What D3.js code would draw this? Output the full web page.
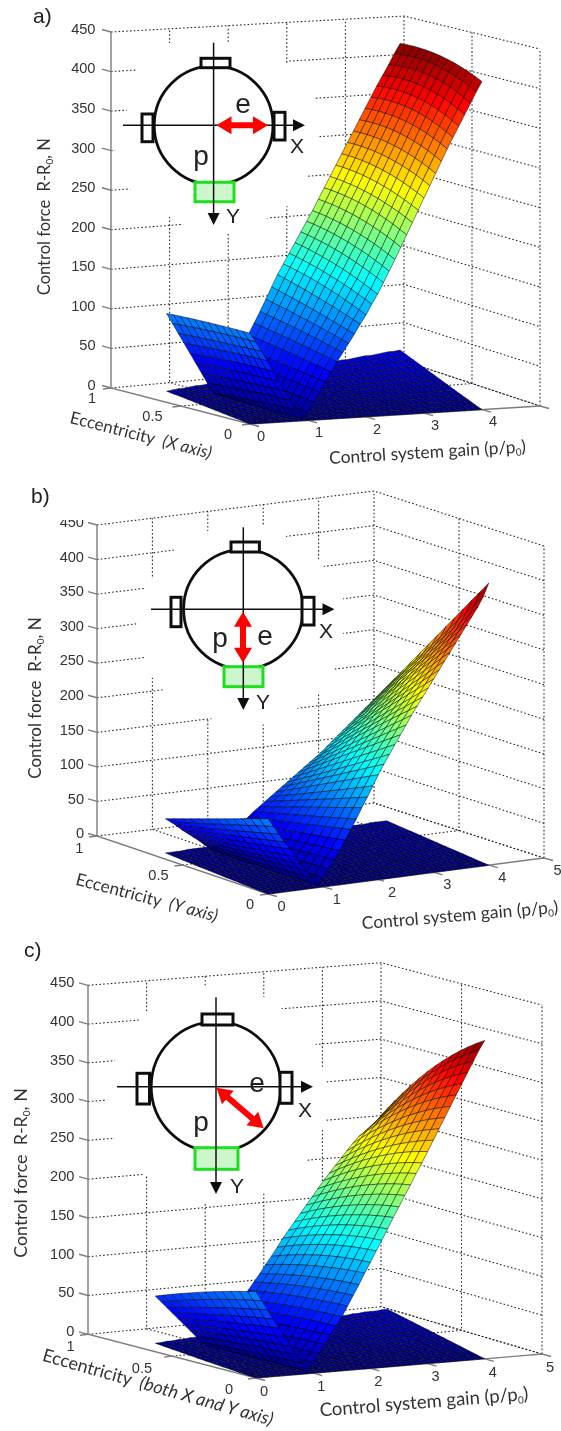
<!DOCTYPE html>
<html>
<head>
<meta charset="utf-8">
<script src="https://d3js.org/d3.v7.min.js"></script>
<style>
body { margin: 0; background: #fff; }
text { white-space: pre; }
</style>
</head>
<body>
<div id="wrapper"></div>
<script>
// mesh rows and the three measured columns of each sheet
const gainRows = [0,0.1,0.2,0.3,0.4,0.5,0.6,0.7,0.8,0.9,1,1.1,1.2,1.3,1.4,1.5,1.6,1.7,1.8,1.9,2,2.1,2.2,2.3,2.4,2.5,2.6,2.7,2.8,2.9,3,3.1,3.2,3.3,3.4,3.5,3.6,3.7,3.8,3.9,4];
const eccCols = [0, 0.3, 0.6];
const eccMesh = [0,0.05,0.1,0.15,0.2,0.25,0.3,0.35,0.4,0.45,0.5,0.55,0.6];
const foldRow = 9; // wing below this row, ridge above

const forceTicks = [0,50,100,150,200,250,300,350,400,450];
const gainTicks = [0,1,2,3,4,5];
const eccTicks = [0,0.5,1];

// a) force read along eccentricity 0, 0.3, 0.6
const upperA0 = [111,100,88,76,63,50,38,26,14,3,10,22,34,46,58,70,81,92,103,115,126,139,151,165,179,193,208,223,238,253,268,283,298,313,328,342,356,370,384,398,411];
const upperA3 = [112,100,87,75,62,49,36,24,11,3,15,28,41,54,68,81,94,107,120,134,148,161,174,188,202,216,231,246,260,275,290,305,320,335,350,365,379,393,407,420,431];
const upperA6 = [111,98,85,72,59,46,33,20,7,4,20,34,48,62,77,91,105,120,135,150,163,176,189,202,215,228,242,256,270,284,298,312,326,340,354,368,382,395,408,422,435];
const lowerA3 = [7,7,8,8,8,9,9,9,10,10,10,11,11,11,12,12,12,13,13,13,14,14,14,15,15,15,16,16,17,17,17,18,18,19,19,19,20,20,20,21,21];
const lowerA6 = [14,15,16,16,17,18,18,19,20,20,21,22,22,23,24,25,25,26,27,27,28,29,30,30,31,32,33,33,34,35,36,36,37,38,39,39,40,41,42,42,43];

// b)
const upperB0 = [106,94,82,70,59,47,36,25,14,3,13,24,36,48,62,76,90,105,119,134,149,163,176,189,202,215,228,240,252,264,276,288,300,312,324,336,348,360,372,386,405];
const upperB3 = [82,73,64,55,46,37,28,20,11,3,12,21,31,40,50,61,71,82,92,102,113,123,132,142,152,161,170,180,189,198,208,217,226,236,246,255,265,274,284,294,307];
const upperB6 = [58,52,46,39,33,27,21,14,8,2,10,17,25,32,39,46,53,59,65,71,77,83,89,95,101,107,113,119,125,132,139,146,153,160,167,174,181,188,195,202,209];
const lowerB3 = [4,4,4,4,5,5,5,5,5,5,5,5,5,5,6,6,6,6,6,6,6,6,6,6,6,7,7,7,7,7,7,7,7,7,7,8,8,8,8,8,8];
const lowerB6 = [9,9,9,9,10,10,10,10,10,11,11,11,11,11,12,12,12,12,12,13,13,13,13,13,13,14,14,14,14,14,14,15,15,15,15,15,15,16,16,16,16];

// c)
const upperC0 = [108,96,84,72,60,48,36,25,14,3,13,24,35,46,57,68,81,94,107,121,134,148,161,175,189,202,216,229,243,256,270,284,298,312,326,340,354,368,382,396,408];
const upperC3 = [92,82,71,61,51,41,31,21,11,3,12,22,32,43,54,65,77,89,101,114,127,140,152,164,176,188,200,212,224,236,248,259,271,283,295,307,318,329,340,350,360];
const upperC6 = [71,63,55,47,39,31,23,15,7,2,10,18,27,37,47,57,68,78,88,99,109,120,131,141,151,161,171,181,191,201,210,219,228,237,246,254,260,266,272,280,288];
const lowerC3 = [5,5,6,6,6,6,7,7,7,7,7,8,8,8,8,9,9,9,9,9,10,10,10,10,11,11,11,11,11,12,12,12,12,12,13,13,13,13,13,14,14];
const lowerC6 = [11,11,12,12,13,13,14,14,15,15,15,16,16,17,17,18,18,19,19,19,20,20,21,21,22,22,22,23,23,24,24,25,25,25,26,26,27,27,27,28,28];

const width = 561, height = 1431;

const gainScale = d3.scaleLinear().domain([0,5]).range([0,1]);
const eccScale = d3.scaleLinear().domain([0,1]).range([0,1]);
const forceScale = d3.scaleLinear().domain([0,450]).range([0,1]);
const jet = d3.scaleLinear()
    .domain([0,0.125,0.375,0.625,0.875,1])
    .range(["#00007f","#0000ff","#00ffff","#ffff00","#ff0000","#7f0000"]);

// floor corners: A ecc1/gain0, B ecc0/gain0, C ecc0/gain5, D ecc1/gain5, h = height of 450 N
const panels = [
  {
    label: "a)", labelPos: [33,23],
    upper: [upperA0,upperA3,upperA6], lower: [lowerA3,lowerA6], top: 436,
    A: {x:111,y:388,h:356}, B: {x:250,y:424,h:368}, C: {x:540,y:406,h:357}, D: {x:404,y:361,h:345},
    gainLabels: [0,1,2,3,4], gainOff: [11,11.5], eccOff: [[-22,10],[-28,10],[-19,10]], forceX: 95.5, forceDy: -3.4,
    yTitle: {p:[44.7,216.7], s:16.5}, eccTitle: {t:"(X axis)", p:[141,435], r:14.3, s:17}, gainTitle: {p:[427.5,452], r:-3.4, s:17.4},
    cover: [[136,43],[286,43],[286,62],[315,99],[318,140],[306,180],[286,207],[261,222],[227,233],[182,225],[130,189],[115,151],[127,110],[136,70]],
    patches: [],
    inset: {c:[213.6,125.3], r:59.4, top:[201,58.3,230,67.7], left:[142,114,153,141.7], right:[274,112.3,285,140], green:[195,182.3,234,201.7],
      vert:[42.7,225], hor:[123,305], red:[[216.5,125.3],[268,125.3]], e:[243,113], p:[201,165], X:[297,153], Y:[233,222.7]}
  },
  {
    label: "b)", labelPos: [31,503],
    upper: [upperB0,upperB3,upperB6], lower: [lowerB3,lowerB6], top: 407,
    A: {x:97,y:836,h:311}, B: {x:268,y:894,h:320}, C: {x:544,y:858,h:312}, D: {x:374,y:803,h:312},
    gainLabels: [0,1,2,3,4,5], gainOff: [13.6,11.7], eccOff: [[-18,9.3],[-24,10],[-17.6,11.7]], forceX: 84, forceDy: -3,
    yTitle: {p:[34.7,698], s:17}, eccTitle: {t:"(Y axis)", p:[147,897.3], r:14.8, s:17.2}, gainTitle: {p:[460,915], r:-4.8, s:17.4},
    cover: [[174,550],[174,533],[207,531],[262,525],[286,530],[286,537],[317,558],[324,567],[343,598],[343,633],[335,668],[317,695],[300,707],[262,725],[207,718],[163,690],[152,677],[145,658],[136,625],[145,588]],
    patches: [[60,508,44,12],[384,880,18,7]],
    inset: {c:[243.3,609.3], r:59.7, top:[231,542,259.4,552], left:[171,597.3,181,626.7], right:[302,597.3,314,625], green:[224,666.7,263,686.7],
      vert:[527.3,710], hor:[151,334.5], red:[[243,611.7],[243,662.7]], e:[265,645], p:[220,647], X:[326,638.3], Y:[263,709]}
  },
  {
    label: "c)", labelPos: [24,956.7],
    upper: [upperC0,upperC3,upperC6], lower: [lowerC3,lowerC6], top: 410,
    A: {x:88,y:1334.3,h:349}, B: {x:256,y:1378,h:360}, C: {x:542,y:1354,h:349}, D: {x:381,y:1306.7,h:344},
    gainLabels: [0,1,2,3,4,5], gainOff: [8,12.5], eccOff: [[-27,10.3],[-30,11.7],[-17.5,11.7]], forceX: 74.4, forceDy: -3.5,
    yTitle: {p:[20.4,1173], s:17.9}, eccTitle: {t:"(both X and Y axis)", p:[158,1387], r:15.8, s:18}, gainTitle: {p:[424,1401.7], r:-4.6, s:18.5},
    cover: [[147,1012],[204,987],[265,997],[281,1008],[316,1045],[327,1083],[326,1122],[322,1130],[306,1162],[265,1193],[204,1203],[147,1175],[143,1175],[114,1138],[107,1101],[114,1062],[140,1020]],
    patches: [],
    inset: {c:[216,1086.7], r:64.8, top:[202,1014,233,1025], left:[137,1073.3,149.5,1104], right:[280,1072.3,292,1103.3], green:[195,1147.7,238,1169.3],
      vert:[997.3,1194], hor:[117,313], red:[[216.5,1087.7],[263.7,1128.3]], e:[257,1091.7], p:[201,1130.7], X:[305,1116.7], Y:[237,1193]}
  }
];

const svg = d3.select("#wrapper").append("svg")
    .attr("width",width)
    .attr("height",height)
    .style("display","block");

const defs = svg.append("defs");
defs.append("filter").attr("id","soft")
    .attr("x","-5%").attr("y","-5%").attr("width","110%").attr("height","110%")
  .append("feGaussianBlur").attr("stdDeviation",0.35);

const root = svg.append("g").attr("filter","url(#soft)");

// curve through the three measured columns
function acrossEcc(v0, v3, v6, e) {
    const a = eccCols[0], b = eccCols[1], c = eccCols[2];
    return v0*(e-b)*(e-c)/((a-b)*(a-c)) + v3*(e-a)*(e-c)/((b-a)*(b-c)) + v6*(e-a)*(e-b)/((c-a)*(c-b));
}

panels.forEach(drawPanel);

function drawPanel(p) {
    const project = (gain, ecc, force) => {
        const u = gainScale(gain), v = eccScale(ecc);
        const mix = (k) => (1-u)*(1-v)*p.B[k] + u*(1-v)*p.C[k] + (1-u)*v*p.A[k] + u*v*p.D[k];
        return [mix("x"), mix("y") - forceScale(force)*mix("h")];
    };
    const line = d3.line();
    const g = root.append("g");

    const grid = (pts) => g.append("path")
        .attr("d",line(pts))
        .attr("fill","none")
        .attr("stroke","#222")
        .attr("stroke-width",1.05)
        .attr("stroke-dasharray","1.6 2.2");

    // walls and floor
    forceTicks.forEach(f => grid([project(0,1,f),project(5,1,f),project(5,0,f)]));
    gainTicks.slice(1).forEach(t => grid([project(t,0,0),project(t,1,0),project(t,1,450)]));
    grid([project(5,0,0),project(5,0,450)]);
    grid([project(0,0.5,0),project(5,0.5,0),project(5,0.5,450)]);

    // white background of the pasted sketch hides part of the grid
    g.append("polygon")
        .attr("points",p.cover.join(" "))
        .attr("fill","#fff");

    // axes
    const axis = (pts) => g.append("path")
        .attr("d",line(pts))
        .attr("fill","none")
        .attr("stroke","#7d7d7d")
        .attr("stroke-width",1.4);
    axis([project(0,1,450),project(0,1,0),project(0,0,0),project(5,0,0)]);
    forceTicks.forEach(f => {
        const a = project(0,1,f);
        axis([a,[a[0]-9,a[1]-2.5]]);
    });
    eccTicks.forEach(e => {
        const a = project(0,e,0);
        axis([a,[a[0]-8,a[1]+1]]);
    });
    gainTicks.forEach(t => {
        const a = project(t,0,0);
        axis([a,[a[0]+9,a[1]+2.5]]);
    });

    const tick = (x, y, s, anchor) => g.append("text")
        .attr("x",x).attr("y",y).attr("dy","0.36em")
        .attr("text-anchor",anchor)
        .attr("font-family","'Liberation Sans', Arial, sans-serif")
        .attr("font-size",14.6)
        .attr("fill","#333")
        .text(s);

    forceTicks.forEach(f => tick(p.forceX, project(0,1,f)[1]+p.forceDy, f, "end"));
    eccTicks.forEach((e,i) => {
        const a = project(0,e,0);
        tick(a[0]+p.eccOff[i][0], a[1]+p.eccOff[i][1], e, "middle");
    });
    p.gainLabels.forEach(t => {
        const a = project(t,0,0);
        tick(a[0]+p.gainOff[0], a[1]+p.gainOff[1], t, "middle");
    });

    p.patches.forEach(r => g.append("rect")
        .attr("x",r[0]).attr("y",r[1]).attr("width",r[2]).attr("height",r[3]).attr("fill","#fff"));

    drawTitles(g,p);

    // surfaces: lower sheet, then ridge, then wing in front
    const lowerAt = (i,e) => acrossEcc(0,p.lower[0][i],p.lower[1][i],e);
    const upperAt = (i,e) => acrossEcc(p.upper[0][i],p.upper[1][i],p.upper[2][i],e);

    const sheet = (rows, valueAt, opacity) => {
        rows.forEach(i => {
            d3.range(eccMesh.length-2,-1,-1).forEach(j => {
                const e0 = eccMesh[j], e1 = eccMesh[j+1];
                const i1 = i+1;
                const zs = [valueAt(i,e0),valueAt(i,e1),valueAt(i1,e1),valueAt(i1,e0)];
                g.append("path")
                    .attr("d",line([
                        project(gainRows[i],e0,zs[0]),
                        project(gainRows[i],e1,zs[1]),
                        project(gainRows[i1],e1,zs[2]),
                        project(gainRows[i1],e0,zs[3])
                    ])+"Z")
                    .attr("fill",jet(d3.mean(zs)/p.top))
                    .attr("stroke","#000")
                    .attr("stroke-opacity",opacity)
                    .attr("stroke-width",0.55)
                    .attr("stroke-linejoin","round");
            });
        });
    };
    const lastRow = gainRows.length-2;
    sheet(d3.range(lastRow,-1,-1), lowerAt, 0.75);
    sheet(d3.range(lastRow,foldRow-1,-1), upperAt, 0.85);
    sheet(d3.range(0,foldRow), upperAt, 0.85);

    drawInset(g,p.inset);

    g.append("text")
        .attr("x",p.labelPos[0]).attr("y",p.labelPos[1])
        .attr("font-family","'Liberation Sans', Arial, sans-serif")
        .attr("font-size",21)
        .attr("fill","#222")
        .text(p.label);
}

function drawTitles(g,p) {
    const title = (pos, rot, size) => g.append("text")
        .attr("transform",`translate(${pos[0]},${pos[1]}) rotate(${rot})`)
        .attr("text-anchor","middle")
        .attr("dy","0.35em")
        .attr("font-family","Lato, 'Open Sans', sans-serif")
        .attr("font-size",size)
        .attr("fill","#333");

    const y = title(p.yTitle.p,-90,p.yTitle.s);
    y.append("tspan").text("Control force  R-R");
    y.append("tspan").attr("font-size",10).attr("dy",3).text("0");
    y.append("tspan").attr("dy",-3).text(", N");

    const e = title(p.eccTitle.p,p.eccTitle.r,p.eccTitle.s);
    e.append("tspan").text("Eccentricity  ");
    e.append("tspan").attr("font-style","italic").text(p.eccTitle.t);

    const c = title(p.gainTitle.p,p.gainTitle.r,p.gainTitle.s);
    c.append("tspan").text("Control system gain (p/p");
    c.append("tspan").attr("font-size",10).attr("dy",3).text("0");
    c.append("tspan").attr("dy",-3).text(")");
}

function drawInset(g,s) {
    const rect = (r, fill, stroke) => g.append("rect")
        .attr("x",r[0]).attr("y",r[1])
        .attr("width",r[2]-r[0]).attr("height",r[3]-r[1])
        .attr("fill",fill)
        .attr("stroke",stroke)
        .attr("stroke-width",3);

    g.append("circle")
        .attr("cx",s.c[0]).attr("cy",s.c[1]).attr("r",s.r)
        .attr("fill","none").attr("stroke","#111").attr("stroke-width",2.8);

    rect(s.top,"#fff","#111");
    rect(s.left,"#fff","#111");
    rect(s.right,"#fff","#111");
    rect(s.green,"#ccf7cc","#1fe01f");

    const thin = (x1,y1,x2,y2) => g.append("line")
        .attr("x1",x1).attr("y1",y1).attr("x2",x2).attr("y2",y2)
        .attr("stroke","#111").attr("stroke-width",1.5);

    thin(s.c[0],s.vert[0],s.c[0],s.vert[1]-10);
    thin(s.hor[0],s.c[1],s.hor[1]-10,s.c[1]);
    g.append("polygon")
        .attr("points",[[s.c[0]-6,s.vert[1]-12],[s.c[0]+6,s.vert[1]-12],[s.c[0],s.vert[1]]].join(" "))
        .attr("fill","#111");
    g.append("polygon")
        .attr("points",[[s.hor[1]-12,s.c[1]-6],[s.hor[1]-12,s.c[1]+6],[s.hor[1],s.c[1]]].join(" "))
        .attr("fill","#111");

    // red double arrow
    const a = s.red[0], b = s.red[1];
    const len = Math.hypot(b[0]-a[0],b[1]-a[1]);
    const ux = (b[0]-a[0])/len, uy = (b[1]-a[1])/len;
    const along = (t,w) => [a[0]+ux*t-uy*w, a[1]+uy*t+ux*w];
    const head = 15, hw = 9, sw = 3;
    g.append("polygon")
        .attr("points",[
            along(0,0),along(head,hw),along(head,sw),along(len-head,sw),along(len-head,hw),
            along(len,0),along(len-head,-hw),along(len-head,-sw),along(head,-sw),along(head,-hw)
        ].join(" "))
        .attr("fill","#f00");

    const label = (pos,t,size) => g.append("text")
        .attr("x",pos[0]).attr("y",pos[1])
        .attr("text-anchor","middle")
        .attr("font-family","'Liberation Sans', Arial, sans-serif")
        .attr("font-size",size)
        .attr("fill","#222")
        .text(t);
    label(s.e,"e",28);
    label(s.p,"p",28);
    label(s.X,"X",21);
    label(s.Y,"Y",21);
}
</script>
</body>
</html>
